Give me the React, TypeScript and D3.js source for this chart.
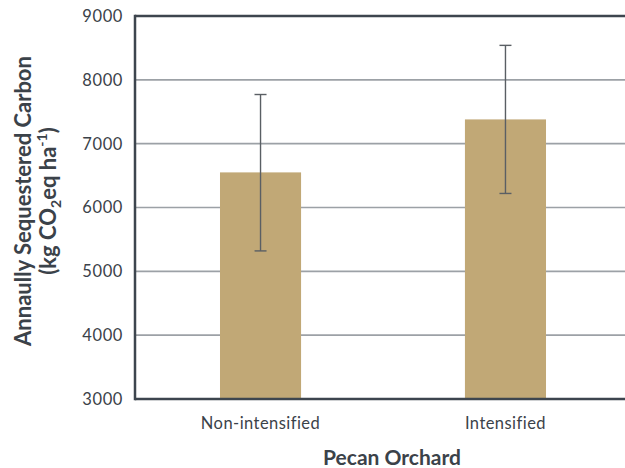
import React from "react";
import * as d3 from "d3";

const categories = ["Non-intensified", "Intensified"];
const means = [6550, 7380];
const errLow = [5320, 6220];
const errHigh = [7770, 8540];
const yTicks = [3000, 4000, 5000, 6000, 7000, 8000, 9000];

const W = 625;
const H = 468;
const left = 135;
const top = 16;
const bottom = 399;

export default function App() {
  const y = d3.scaleLinear().domain([3000, 9000]).range([bottom, top]);
  const x = d3
    .scaleBand<string>()
    .domain(categories)
    .range([left, 631])
    .paddingInner(0.669)
    .paddingOuter(0.347);
  const bw = x.bandwidth();
  const font = "Lato, 'Open Sans', sans-serif";
  const textColor = "#3b4249";
  return (
    <svg
      width={W}
      height={H}
      style={{ position: "absolute", left: 0, top: 0, background: "#fff" }}
      fontFamily={font}
    >
      {yTicks.map((t) => (
        <line
          key={"g" + t}
          x1={left}
          x2={W}
          y1={y(t)}
          y2={y(t)}
          stroke="#9ca1a6"
          strokeWidth={1.6}
        />
      ))}
      {categories.map((c, i) => (
        <rect
          key={c}
          x={x(c)}
          y={y(means[i])}
          width={bw}
          height={bottom - y(means[i])}
          fill="#c1a876"
        />
      ))}
      {categories.map((c, i) => {
        const cx = (x(c) as number) + bw / 2;
        return (
          <g key={"e" + c} stroke="#5a5f64" strokeWidth={1.4}>
            <line x1={cx} x2={cx} y1={y(errHigh[i])} y2={y(errLow[i])} />
            <line x1={cx - 6} x2={cx + 6} y1={y(errHigh[i])} y2={y(errHigh[i])} />
            <line x1={cx - 6} x2={cx + 6} y1={y(errLow[i])} y2={y(errLow[i])} />
          </g>
        );
      })}
      <line x1={left} x2={W} y1={top} y2={top} stroke="#3d454e" strokeWidth={2.5} />
      <line x1={left} x2={W} y1={bottom} y2={bottom} stroke="#3d454e" strokeWidth={2.5} />
      <line x1={left} x2={left} y1={top - 1.25} y2={bottom + 1.25} stroke="#3d454e" strokeWidth={2.5} />
      {yTicks.map((t) => (
        <text
          key={"t" + t}
          x={123}
          y={y(t)}
          dy="0.36em"
          textAnchor="end"
          fontSize={16.5}
          letterSpacing={0.6}
          fill={textColor}
        >
          {t}
        </text>
      ))}
      {categories.map((c) => (
        <text
          key={"x" + c}
          x={(x(c) as number) + bw / 2}
          y={429}
          textAnchor="middle"
          fontSize={16.5}
          letterSpacing={0.45}
          fill={textColor}
        >
          {c}
        </text>
      ))}
      <text
        x={392}
        y={465}
        textAnchor="middle"
        fontSize={21}
        fontWeight="bold"
        fill={textColor}
      >
        Pecan Orchard
      </text>
      <g transform={`translate(31, 201) rotate(-90)`}>
        <text x={0} y={0} textAnchor="middle" fontSize={22} fontWeight="bold" fill={textColor}>
          Annaully Sequestered Carbon
        </text>
        <text x={0} y={25} textAnchor="middle" fontSize={22} fontWeight="bold" fill={textColor}>
          (kg CO
          <tspan fontSize={14} dy="5">2</tspan>
          <tspan dy="-5">eq ha</tspan>
          <tspan fontSize={14} dy="-9">-1</tspan>
          <tspan dy="9">)</tspan>
        </text>
      </g>
    </svg>
  );
}
